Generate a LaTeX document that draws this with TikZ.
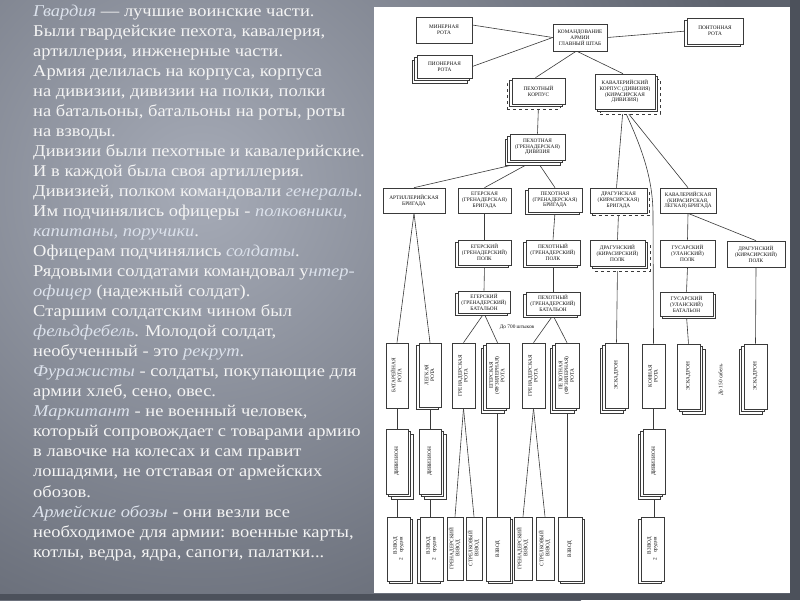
\documentclass[tikz,border=0pt]{standalone}
\usepackage{fontspec}
\setmainfont{Liberation Serif}[FakeStretch=1.12]
\newfontfamily\chartfont{Liberation Serif}
\usetikzlibrary{shadows}
\pgfdeclarelayer{bg}
\pgfdeclarelayer{lines}
\pgfsetlayers{bg,lines,main}
\definecolor{slidebase}{HTML}{5D626D}
\definecolor{slidelight}{HTML}{A6ABB7}
\definecolor{slidedark}{HTML}{4C515B}
\definecolor{txt}{HTML}{F4F4F4}
\definecolor{itc}{HTML}{DCE2EC}
\definecolor{ink}{HTML}{111111}
\definecolor{wire}{HTML}{3A3A3A}
\newcommand{\ith}[1]{{\itshape\color{itc}#1}}
\newcommand{\vtext}[1]{\rotatebox{90}{\begin{tabular}{@{}c@{}}#1\end{tabular}}}
\newcommand{\vtextr}[1]{\rotatebox{90}{\begin{tabular}{@{}r@{}}#1\end{tabular}}}
\begin{document}
\begin{tikzpicture}[x=1pt,y=-1pt,
  box/.style={draw=wire, fill=white, line width=0.65pt, inner sep=0pt, align=center, text=ink,
    font=\chartfont\fontsize{5.3}{5.8}\selectfont},
  sL/.style={copy shadow={shadow xshift=-2.5pt,shadow yshift=-2.5pt}},
  sR/.style={copy shadow={shadow xshift=2.5pt,shadow yshift=-2.5pt}},
  sRd/.style={copy shadow={shadow xshift=2.5pt,shadow yshift=-2.5pt,dashed}},
  sLL/.style={copy shadow={shadow xshift=-5pt,shadow yshift=-5pt},copy shadow={shadow xshift=-2.5pt,shadow yshift=-2.5pt}},
  sRR/.style={copy shadow={shadow xshift=5pt,shadow yshift=-5pt},copy shadow={shadow xshift=2.5pt,shadow yshift=-2.5pt}},
  sLLd/.style={copy shadow={shadow xshift=-5pt,shadow yshift=-5pt,dashed},copy shadow={shadow xshift=-2.5pt,shadow yshift=-2.5pt}},
  sRRd/.style={copy shadow={shadow xshift=5pt,shadow yshift=-5pt,dashed},copy shadow={shadow xshift=2.5pt,shadow yshift=-2.5pt}},
  wireln/.style={draw=wire, line width=0.6pt},
  body/.style={anchor=base west, inner sep=0pt, text=txt, font=\fontsize{16.5}{20}\selectfont},
  note/.style={inner sep=0pt, text=ink, font=\chartfont\fontsize{5.3}{5.8}\selectfont}
]
\useasboundingbox (0,0) rectangle (800,600);
% ---------- background ----------
\begin{pgfonlayer}{bg}
\begin{scope}
\clip (0,0) rectangle (800,600);
\fill[slidebase] (0,0) rectangle (800,600);
\shade[inner color=slidelight, outer color=slidebase] (200,190) circle (560);
\fill[slidedark] (790,0) rectangle (800,600);
\fill[slidedark] (0,594) rectangle (800,600);
\end{scope}
\fill[white] (374,7) rectangle (790,593);
\end{pgfonlayer}
% ---------- left text ----------
\node[body] (l1)  at (33,16)    {\ith{Гвардия} — лучшие воинские части.};
\node[body] (l2)  at (33,36)    {Были гвардейские пехота, кавалерия,};
\node[body] (l3)  at (33,56.1)  {артиллерия, инженерные части.};
\node[body] (l4)  at (33,76.1)  {Армия делилась на корпуса, корпуса};
\node[body] (l5)  at (33,96.2)  {на дивизии, дивизии на полки, полки};
\node[body] (l6)  at (33,116.2) {на батальоны, батальоны на роты, роты};
\node[body] (l7)  at (33,136.2) {на взводы.};
\node[body] (l8)  at (33,156.3) {Дивизии были пехотные и кавалерийские.};
\node[body] (l9)  at (33,176.3) {И в каждой была своя артиллерия.};
\node[body] (l10) at (33,196.4) {Дивизией, полком командовали \ith{генералы}.};
\node[body] (l11) at (33,216.4) {Им подчинялись офицеры - \ith{полковники,}};
\node[body] (l12) at (33,236.4) {\ith{капитаны, поручики}.};
\node[body] (l13) at (33,256.5) {Офицерам подчинялись \ith{солдаты}.};
\node[body] (l14) at (33,276.5) {Рядовыми солдатами командовал у\ith{нтер-}};
\node[body] (l15) at (33,296.6) {\ith{офицер} (надежный солдат).};
\node[body] (l16) at (33,316.6) {Старшим солдатским чином был};
\node[body] (l17) at (33,336.6) {\ith{фельдфебель}. Молодой солдат,};
\node[body] (l18) at (33,356.7) {необученный - это \ith{рекрут}.};
\node[body] (l19) at (33,376.7) {\ith{Фуражисты} - солдаты, покупающие для};
\node[body] (l20) at (33,396.8) {армии хлеб, сено, овес.};
\node[body] (l21) at (33,416.8) {\ith{Маркитант} - не военный человек,};
\node[body] (l22) at (33,436.8) {который сопровождает с товарами армию};
\node[body] (l23) at (33,456.9) {в лавочке на колесах и сам правит};
\node[body] (l24) at (33,476.9) {лошадями, не отставая от армейских};
\node[body] (l25) at (33,497)   {обозов.};
\node[body] (l26) at (33,517)   {\ith{Армейские обозы} - они везли все};
\node[body] (l27) at (33,537)   {необходимое для армии: военные карты,};
\node[body] (l28) at (33,557.1) {котлы, ведра, ядра, сапоги, палатки...};
% ---------- chart: top ----------
\node[box, minimum width=56, minimum height=26] (minr) at (444,30) {МИНЕРНАЯ\\РОТА};
\node[box, sLL, minimum width=55, minimum height=23] (pion) at (444.5,66.5) {ПИОНЕРНАЯ\\РОТА};
\node[box, minimum width=54, minimum height=27] (kom) at (580,37.5) {КОМАНДОВАНИЕ\\АРМИИ\\ГЛАВНЫЙ ШТАБ};
\node[box, sL, minimum width=56, minimum height=26] (pont) at (715,31) {ПОНТОННАЯ\\РОТА};
\node[box, sLLd, minimum width=53, minimum height=26] (pkorp) at (538.5,91) {ПЕХОТНЫЙ\\КОРПУС};
\node[box, sRRd, minimum width=60, minimum height=35] (kkorp) at (625,91.5) {КАВАЛЕРИЙСКИЙ\\КОРПУС (ДИВИЗИЯ)\\(КИРАСИРСКАЯ\\ДИВИЗИЯ)};
\node[box, sLL, minimum width=55, minimum height=26] (pdiv) at (537.5,147) {ПЕХОТНАЯ\\(ГРЕНАДЕРСКАЯ)\\ДИВИЗИЯ};
% brigades
\node[box, minimum width=62, minimum height=25] (artbr) at (414,200.5) {АРТИЛЛЕРИЙСКАЯ\\БРИГАДА};
\node[box, minimum width=53, minimum height=25] (egbr) at (484.5,200.5) {ЕГЕРСКАЯ\\(ГРЕНАДЕРСКАЯ)\\БРИГАДА};
\node[box, sL, minimum width=54, minimum height=24] (pbr) at (555,200) {ПЕХОТНАЯ\\(ГРЕНАДЕРСКАЯ)\\БРИГАДА};
\node[box, sRd, minimum width=57, minimum height=25] (drbr) at (618.5,200.5) {ДРАГУНСКАЯ\\(КИРАСИРСКАЯ)\\БРИГАДА};
\node[box, minimum width=56, minimum height=25] (kavbr) at (688,200.5) {КАВАЛЕРИЙСКАЯ\\(КИРАСИРСКАЯ,\\ЛЕГКАЯ) БРИГАДА};
% regiments
\node[box, sL, minimum width=53, minimum height=25] (egp) at (484.5,252.5) {ЕГЕРСКИЙ\\(ГРЕНАДЕРСКИЙ)\\ПОЛК};
\node[box, sL, minimum width=54, minimum height=25] (pp) at (553,252.5) {ПЕХОТНЫЙ\\(ГРЕНАДЕРСКИЙ)\\ПОЛК};
\node[box, sRRd, minimum width=55, minimum height=26] (drp) at (617.5,253) {ДРАГУНСКИЙ\\(КИРАСИРСКИЙ)\\ПОЛК};
\node[box, minimum width=55, minimum height=27] (gp) at (687.5,253.5) {ГУСАРСКИЙ\\(УЛАНСКИЙ)\\ПОЛК};
\node[box, minimum width=58, minimum height=26] (drp2) at (756,254) {ДРАГУНСКИЙ\\(КИРАСИРСКИЙ)\\ПОЛК};
% battalions
\node[box, sL, minimum width=52, minimum height=22] (egb) at (484,302) {ЕГЕРСКИЙ\\(ГРЕНАДЕРСКИЙ)\\БАТАЛЬОН};
\node[box, sL, minimum width=54, minimum height=23] (pb) at (553,303.5) {ПЕХОТНЫЙ\\(ГРЕНАДЕРСКИЙ)\\БАТАЛЬОН};
\node[box, sR, minimum width=53, minimum height=24] (gb) at (686.5,304) {ГУСАРСКИЙ\\(УЛАНСКИЙ)\\БАТАЛЬОН};
\node[note] (n700) at (517,327) {До 700 штыков};
\node[note, rotate=90] (n150) at (721,380) {До 150 сабель};
% companies
\node[box, minimum width=22, minimum height=65] (r1) at (397,375.5) {\vtext{БАТАРЕЙНАЯ\\РОТА}};
\node[box, sL, minimum width=22, minimum height=64] (r2) at (430,375) {\vtext{ЛЕГКАЯ\\РОТА}};
\node[box, minimum width=23, minimum height=65] (r3) at (463.5,375.5) {\vtext{ГРЕНАДЕРСКАЯ\\РОТА}};
\node[box, sLL, minimum width=23, minimum height=65] (r4) at (497.5,375.5) {\vtext{ЕГЕРСКАЯ\\(ФУЗИЛЕРНАЯ)\\РОТА}};
\node[box, minimum width=23, minimum height=65] (r5) at (533.5,375.5) {\vtext{ГРЕНАДЕРСКАЯ\\РОТА}};
\node[box, sLL, minimum width=24, minimum height=65] (r6) at (567,375.5) {\vtext{ПЕХОТНАЯ\\(ФУЗИЛЕРНАЯ)\\РОТА}};
\node[box, sLL, minimum width=23, minimum height=65] (r7) at (616.5,375.5) {\vtext{ЭСКАДРОН}};
\node[box, minimum width=23, minimum height=64] (r8) at (653.5,376) {\vtext{КОННАЯ\\РОТА}};
\node[box, sRR, minimum width=23, minimum height=65] (r9) at (688.5,376.5) {\vtext{ЭСКАДРОН}};
\node[box, sLL, minimum width=23, minimum height=65] (r10) at (755.5,376.5) {\vtext{ЭСКАДРОН}};
% divizions
\node[box, sRR, minimum width=22, minimum height=65] (d1) at (397,461.5) {\vtext{ДИВИЗИОН}};
\node[box, sRR, minimum width=22, minimum height=65] (d2) at (430,461.5) {\vtext{ДИВИЗИОН}};
\node[box, sLL, minimum width=22, minimum height=65] (d3) at (654,461.5) {\vtext{ДИВИЗИОН}};
% platoons
\node[box, sR, minimum width=23, minimum height=64] (v1) at (398.5,549) {\vtextr{ВЗВОД\\2\quad орудия}};
\node[box, sL, minimum width=23, minimum height=64] (v2) at (431.5,549) {\vtextr{ВЗВОД\\2\quad орудия}};
\node[box, minimum width=16, minimum height=63] (v3) at (455,548.5) {\vtext{ГРЕНАДЕРСКИЙ\\ВЗВОД}};
\node[box, minimum width=16, minimum height=63] (v4) at (474,548.5) {\vtext{СТРЕЛКОВЫЙ\\ВЗВОД}};
\node[box, sR, minimum width=24, minimum height=64] (v5) at (498,549) {\vtext{ВЗВОД}};
\node[box, minimum width=18, minimum height=63] (v6) at (523,548.5) {\vtext{ГРЕНАДЕРСКИЙ\\ВЗВОД}};
\node[box, minimum width=18, minimum height=63] (v7) at (545,548.5) {\vtext{СТРЕЛКОВЫЙ\\ВЗВОД}};
\node[box, sR, minimum width=24, minimum height=64] (v8) at (570,549) {\vtext{ВЗВОД}};
\node[box, sL, minimum width=23, minimum height=64] (v9) at (652.5,549) {\vtextr{ВЗВОД\\2\quad орудия}};
% ---------- connectors ----------
\begin{pgfonlayer}{lines}
\draw[wireln] ([yshift=5pt]minr.east) -- (kom.west);
\draw[wireln] (pion.east) -- (kom.west);
\draw[wireln] (kom.east) -- (pont.west);
\draw[wireln] ([xshift=-4pt]kom.south) -- ([xshift=-3pt]pkorp.north);
\draw[wireln] ([xshift=-3pt]kom.south) -- ([xshift=-2pt]kkorp.north);
\draw[wireln] (pkorp.south) -- (pdiv.north);
\draw[wireln] ([xshift=-5pt]pdiv.south) -- (artbr.north);
\draw[wireln] ([xshift=-3pt]pdiv.south) -- (egbr.north);
\draw[wireln] ([xshift=-1pt]pdiv.south) -- (pbr.north);
\draw[wireln] ([xshift=-2pt]kkorp.south) -- ([xshift=-2pt]drbr.north);
\draw[wireln] ([xshift=-1pt]kkorp.south) .. controls (643,150) and (653,180) .. (653,215) -- (r8.north);
\draw[wireln] (kkorp.south) -- (kavbr.north);
\draw[wireln] (artbr.south) -- (r1.north);
\draw[wireln] (artbr.south) -- (r2.north);
\draw[wireln] (egbr.north |- egbr.south) -- (egp.north);
\draw[wireln] (egp.south) -- (egb.north);
\draw[wireln] (egb.south) -- (r3.north);
\draw[wireln] (egb.south) -- (r4.north);
\draw[wireln] (pbr.south) -- (pp.north);
\draw[wireln] (pp.south) -- (pb.north);
\draw[wireln] (pb.south) -- (r5.north);
\draw[wireln] (pb.south) -- (r6.north);
\draw[wireln] (drbr.south) -- (drp.north);
\draw[wireln] (drp.south) -- (r7.north);
\draw[wireln] (kavbr.south) -- (gp.north);
\draw[wireln] (kavbr.south) -- (drp2.north);
\draw[wireln] (gp.south) -- (gb.north);
\draw[wireln] (gb.south) -- (r9.north);
\draw[wireln] (drp2.south) -- (r10.north);
\draw[wireln] (r1.south) -- (d1.north);
\draw[wireln] (r2.south) -- (d2.north);
\draw[wireln] (r8.south) -- (r8.south |- d3.north);
\draw[wireln] (d1.south) -- (d1.south |- v1.north);
\draw[wireln] (d2.south) -- (d2.south |- v2.north);
\draw[wireln] (d3.south) -- (d3.south |- v9.north);
\draw[wireln] (r3.south) -- (v3.north);
\draw[wireln] (r3.south) -- (v4.north);
\draw[wireln] (r4.south) -- (r4.south |- v5.north);
\draw[wireln] (r5.south) -- (v6.north);
\draw[wireln] (r5.south) -- (v7.north);
\draw[wireln] (r6.south) -- (r6.south |- v8.north);
\end{pgfonlayer}
\end{tikzpicture}
\end{document}
